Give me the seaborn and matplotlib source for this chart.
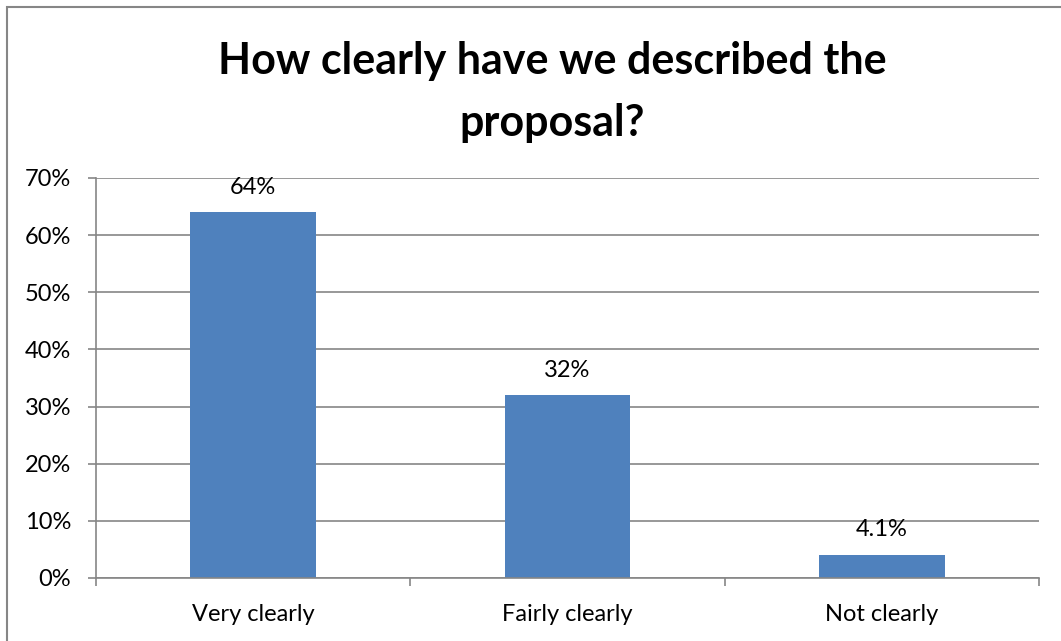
import matplotlib
matplotlib.use("Agg")
import matplotlib.pyplot as plt
import matplotlib.patches as patches
import seaborn as sns
import pandas as pd

# Survey results
categories = ['Very clearly', 'Fairly clearly', 'Not clearly']
shares = [64, 32, 4.1]
bar_labels = ['64%', '32%', '4.1%']
y_ticks = [0, 10, 20, 30, 40, 50, 60, 70]
title = 'How clearly have we described the\nproposal?'

df = pd.DataFrame({'category': categories, 'share': shares})

sns.set_style('white')
plt.rcParams['font.family'] = ['Lato', 'DejaVu Sans']
plt.rcParams['text.color'] = 'black'

grid_color = '#868686'
label_size = 17

fig = plt.figure(figsize=(10.61, 6.41), dpi=100)
ax = fig.add_axes([96 / 1061, 1 - 578 / 641, (1039 - 96) / 1061, 400 / 641])

sns.barplot(data=df, x='category', y='share', ax=ax, color='#4F81BD',
            width=0.40, saturation=1, edgecolor='none')

ax.set_ylim(0, 70)
ax.set_xlim(-0.5, 2.5)
ax.set_yticks(y_ticks)
ax.set_yticklabels([f'{t}%' for t in y_ticks])
ax.yaxis.grid(True, color=grid_color, linewidth=1.2)
ax.set_axisbelow(True)
ax.set_xlabel('')
ax.set_ylabel('')

for s in ['top', 'right']:
    ax.spines[s].set_visible(False)
for s in ['left', 'bottom']:
    ax.spines[s].set_color(grid_color)
    ax.spines[s].set_linewidth(1.2)

# category boundaries carry the tick marks, labels sit at centres
ax.set_xticks([-0.5, 0.5, 1.5, 2.5], minor=True)
ax.tick_params(axis='x', which='minor', length=6, width=1.2, color=grid_color,
               direction='out', bottom=True)
ax.tick_params(axis='x', which='major', length=0, pad=19, labelsize=label_size,
               labelcolor='black')
ax.tick_params(axis='y', length=6, width=1.2, color=grid_color, direction='out', pad=12,
               labelsize=label_size, labelcolor='black', left=True)

for i, (v, lab) in enumerate(zip(shares, bar_labels)):
    ax.annotate(lab, xy=(i, v), xytext=(0, 18), textcoords='offset points',
                ha='center', va='center', fontsize=label_size)

fig.text(552 / 1061, 1 - 92 / 641, title, ha='center', va='center',
         fontsize=31, fontweight='bold', linespacing=1.65)

# outer chart frame
fig.patches.append(patches.Rectangle((7 / 1061, -0.1), 1.2, 1 - 7 / 641 + 0.1,
                                     transform=fig.transFigure, fill=False,
                                     edgecolor=grid_color, linewidth=1.5))

fig.savefig('out.png', dpi=100)
